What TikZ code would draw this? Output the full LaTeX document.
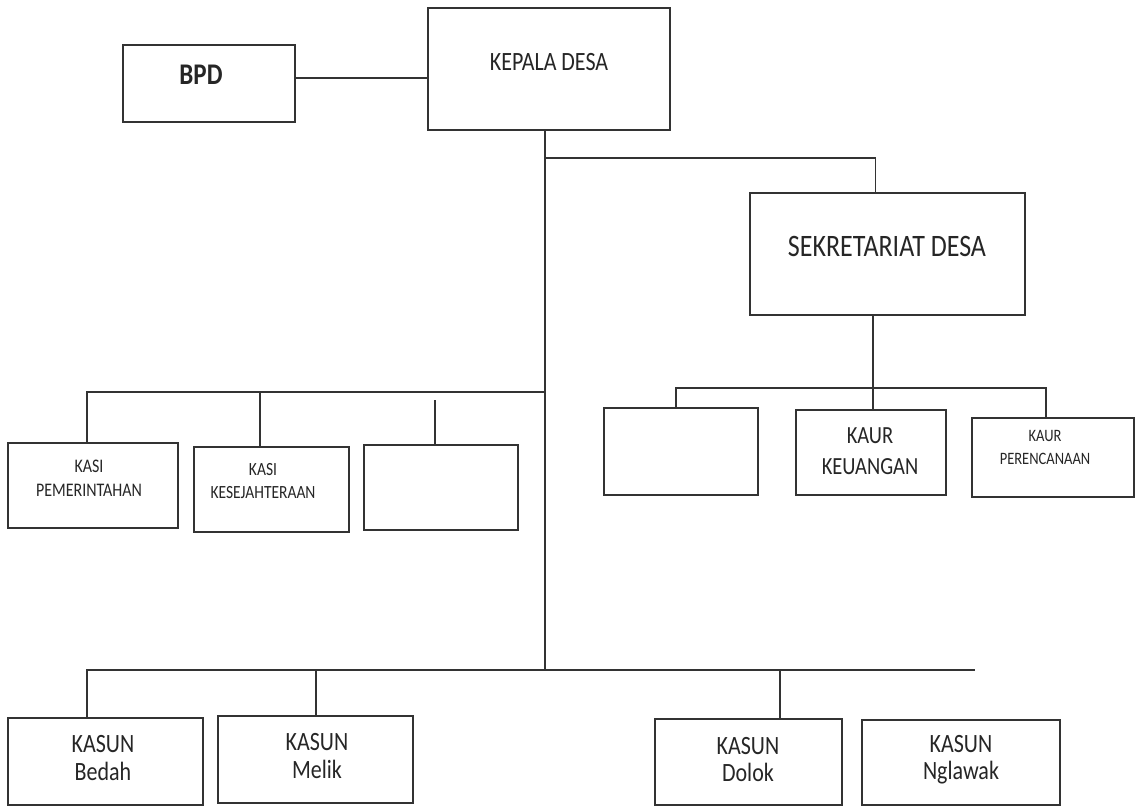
\documentclass[tikz,border=0pt]{standalone}
\usepackage{fontspec}
\usepackage{graphicx}
\setmainfont{Carlito}
\newcommand{\stch}[1]{\scalebox{1}[1.2]{#1}}
\begin{document}
\begin{tikzpicture}[x=1pt,y=-1pt,
  box/.style={draw=black!80, line width=1.3pt, inner sep=0pt},
  ln/.style={draw=black!80, line width=1.3pt},
  lbl/.style={text=black!85, inner sep=0pt, align=center}]
\useasboundingbox (0,0) rectangle (1135,807);
\fill[white] (0,0) rectangle (1135,807);
% boxes
\node[box, minimum width=172pt, minimum height=77pt] (bpd) at (209,83.5) {};
\node[box, minimum width=242pt, minimum height=122pt] (kep) at (549,69) {};
\node[box, minimum width=275pt, minimum height=122pt] (sek) at (887.5,254) {};
\node[box, minimum width=154pt, minimum height=87pt] (e1) at (681,451.5) {};
\node[box, minimum width=150pt, minimum height=85pt] (keu) at (871,452.5) {};
\node[box, minimum width=162pt, minimum height=79pt] (per) at (1053,457.5) {};
\node[box, minimum width=170pt, minimum height=85pt] (pem) at (93,485.5) {};
\node[box, minimum width=155pt, minimum height=85pt] (kes) at (271.5,489.5) {};
\node[box, minimum width=154pt, minimum height=85pt] (e2) at (441,487.5) {};
\node[box, minimum width=195pt, minimum height=87pt] (bed) at (105.5,761.5) {};
\node[box, minimum width=195pt, minimum height=87pt] (mel) at (315.5,759.5) {};
\node[box, minimum width=187pt, minimum height=86pt] (dol) at (748.5,762) {};
\node[box, minimum width=198pt, minimum height=85pt] (ngl) at (961,762.5) {};
% texts
\node[lbl, font=\bfseries\fontsize{25}{28}\selectfont] (tbpd) at (201,75) {\stch{BPD}};
\node[lbl, font=\fontsize{22}{26}\selectfont] (tkep) at (549,62) {\stch{KEPALA DESA}};
\node[lbl, font=\fontsize{26}{30}\selectfont] (tsek) at (887,246) {\stch{SEKRETARIAT DESA}};
\node[lbl, font=\fontsize{20.5}{31}\selectfont] (tkeu) at (870,451) {\stch{KAUR}\\\stch{KEUANGAN}};
\node[lbl, font=\fontsize{14.5}{23}\selectfont] (tper) at (1045,447) {\stch{KAUR}\\\stch{PERENCANAAN}};
\node[lbl, font=\fontsize{16}{24}\selectfont] (tpem) at (89,478) {\stch{KASI}\\\stch{PEMERINTAHAN}};
\node[lbl, font=\fontsize{15.5}{23}\selectfont] (tkes) at (263,481) {\stch{KASI}\\\stch{KESEJAHTERAAN}};
\node[lbl, font=\fontsize{22}{28}\selectfont] (tbed) at (103,758) {\stch{KASUN}\\\stch{Bedah}};
\node[lbl, font=\fontsize{22}{28}\selectfont] (tmel) at (317,756) {\stch{KASUN}\\\stch{Melik}};
\node[lbl, font=\fontsize{22}{27}\selectfont] (tdol) at (748,760) {\stch{KASUN}\\\stch{Dolok}};
\node[lbl, font=\fontsize{22}{27}\selectfont] (tngl) at (961,760) {\stch{KASUN}\\\stch{Nglawak}};
% junction coordinates
\coordinate (trunkTop) at (545,130);
\coordinate (jSek) at (545,158);
\coordinate (jLeft) at (545,392);
\coordinate (jBot) at (545,670);
\coordinate (jSekBar) at (873,388);
\coordinate (botEnd) at (975,670);
\coordinate (stubTop) at (435,400);
% connectors
\draw[ln] (bpd.east |- 0,78) -- (kep.west |- 0,78);
\draw[ln] (trunkTop) -- (jBot);
\draw[ln] (jSek) -| ([xshift=-12pt]sek.north);
\draw[ln] ([xshift=-14.5pt]sek.south) -- (jSekBar);
\draw[ln] (jSekBar) -- (1046,388) -- (per.north -| 1046,0);
\draw[ln] (jSekBar) -- (676,388) -- (e1.north -| 676,0);
\draw[ln] (jSekBar) -- (keu.north -| jSekBar);
\draw[ln] (jLeft) -- (87,392) -- (pem.north -| 87,0);
\draw[ln] (260,392) -- (kes.north -| 260,0);
\draw[ln] (stubTop) -- (e2.north -| stubTop);
\draw[ln] (jBot) -- (botEnd);
\draw[ln] (jBot) -- (87,670) -- (bed.north -| 87,0);
\draw[ln] (316,670) -- (mel.north -| 316,0);
\draw[ln] (780,670) -- (dol.north -| 780,0);
\end{tikzpicture}
\end{document}
